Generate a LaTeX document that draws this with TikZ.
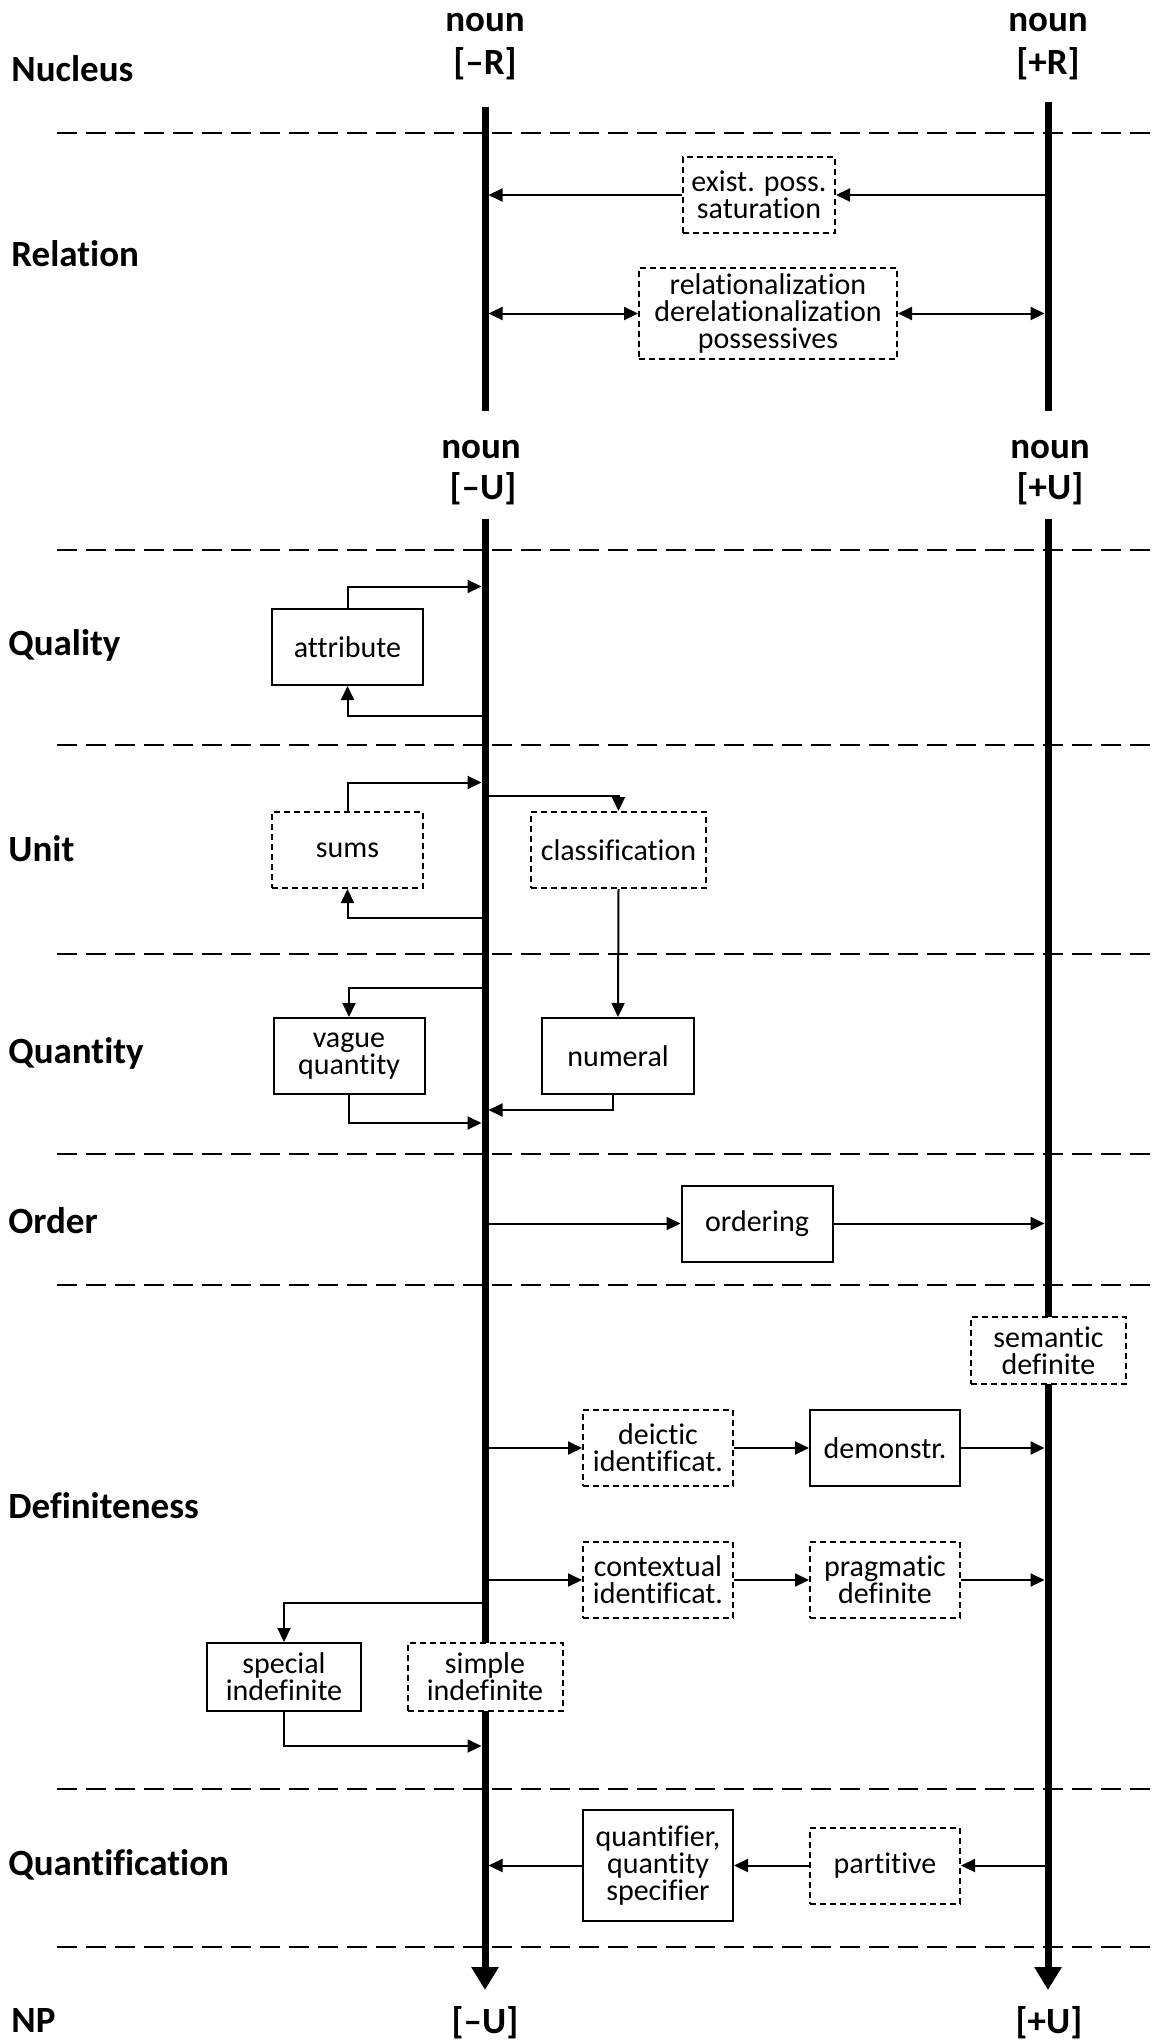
\documentclass[tikz,border=0pt]{standalone}
\usepackage{fontspec}
\setmainfont{Carlito}[Ligatures=NoCommon]
\usetikzlibrary{arrows.meta,calc}
\pgfdeclarelayer{bg}
\pgfsetlayers{bg,main}
\begin{document}
\begin{tikzpicture}[x=0.5pt,y=-0.5pt,
  sep/.style={line width=1.1pt, dash pattern=on 10pt off 4.5pt},
  axisline/.style={line width=3.5pt},
  axisend/.style={line width=3.5pt, -{Triangle[length=11.5pt,width=13pt]}},
  conn/.style={line width=1pt, -{Triangle[length=7pt,width=6.5pt]}},
  dconn/.style={line width=1pt, {Triangle[length=7pt,width=6.5pt]}-{Triangle[length=7pt,width=6.5pt]}},
  box/.style={draw, fill=white, line width=1pt, minimum width=75.5pt, minimum height=38pt, inner sep=0pt, align=center, font=\fontsize{15pt}{13.4pt}\selectfont},
  dbox/.style={box, dash pattern=on 3pt off 2pt},
  hdr/.style={font=\fontsize{18.5pt}{22pt}\selectfont\bfseries, inner sep=0pt, anchor=base},
  rowlab/.style={font=\fontsize{18.5pt}{22pt}\selectfont\bfseries, inner sep=0pt, anchor=base west},
]
\useasboundingbox (0,0) rectangle (1152,2044);

% axis coordinates
\coordinate (Lx) at (485,0);
\coordinate (Rx) at (1048,0);
\coordinate (LT) at (485,107);
\coordinate (LB) at (485,411);
\coordinate (RT) at (1048,102);
\coordinate (RB) at (1048,411);
\coordinate (LT2) at (485,519);
\coordinate (LE) at (485,1990);
\coordinate (RT2) at (1048,519);
\coordinate (RE) at (1048,1990);

\begin{pgfonlayer}{bg}
  \foreach \yy in {133,550,745,954,1154,1285,1789,1947}
    \draw[sep] (57,\yy) -- (1152,\yy);
  \draw[axisline] (LT) -- (LB);
  \draw[axisline] (RT) -- (RB);
  \draw[axisend] (LT2) -- (LE);
  \draw[axisend] (RT2) -- (RE);
\end{pgfonlayer}

% headers
\node[hdr] (nounL1) at (485,32) {noun};
\node[hdr] (RmL) at (485,75) {[–R]};
\node[hdr] (nounR1) at (1048,32) {noun};
\node[hdr] (RpL) at (1048,75) {[+R]};
\node[hdr] (nounL2) at (481,458.5) {noun};
\node[hdr] (UmL) at (483,499.5) {[–U]};
\node[hdr] (nounR2) at (1050,458.5) {noun};
\node[hdr] (UpL) at (1050,499.5) {[+U]};
\node[hdr] (UmB) at (485,2033) {[–U]};
\node[hdr] (UpB) at (1049,2033) {[+U]};

% row labels
\node[rowlab] (lNuc) at (11,81.5) {Nucleus};
\node[rowlab] (lRel) at (11,267) {Relation};
\node[rowlab] (lQual) at (8,655) {Quality};
\node[rowlab] (lUnit) at (8,861) {Unit};
\node[rowlab] (lQuan) at (8,1063) {Quantity};
\node[rowlab] (lOrd) at (8,1233) {Order};
\node[rowlab] (lDef) at (8,1518) {Definiteness};
\node[rowlab] (lQfc) at (8,1875) {Quantification};
\node[rowlab] (lNP) at (11,2032) {NP};

% boxes
\node[dbox, minimum width=76pt] (exist) at (759,195) {exist. poss.\\saturation};
\node[dbox, minimum width=129pt, minimum height=45.5pt] (rel) at (768,313.5) {relationalization\\derelationalization\\possessives};
\node[box] (attr) at (347.5,647) {attribute};
\node[dbox] (sums) at (347.5,850) {sums};
\node[dbox, minimum width=87.5pt] (class) at (618.5,850) {classification};
\node[box] (vague) at (349,1056) {vague\\quantity};
\node[box, minimum width=76pt] (num) at (618,1056) {numeral};
\node[box] (ord) at (757,1223.5) {ordering};
\node[dbox, minimum width=77.5pt, minimum height=33.5pt] (sem) at (1048.5,1350.5) {semantic\\definite};
\node[dbox, minimum width=75pt] (deic) at (658,1448) {deictic\\identificat.};
\node[box, minimum width=75pt] (dem) at (885,1448) {demonstr.};
\node[dbox, minimum width=75pt] (cont) at (658,1580) {contextual\\identificat.};
\node[dbox, minimum width=75pt] (prag) at (885,1580) {pragmatic\\definite};
\node[box, minimum width=77pt, minimum height=34pt] (spec) at (284,1677) {special\\indefinite};
\node[dbox, minimum width=77.5pt, minimum height=34pt] (simp) at (485,1677) {simple\\indefinite};
\node[box, minimum width=75pt, minimum height=55.5pt] (quant) at (658,1865.5) {quantifier,\\quantity\\specifier};
\node[dbox, minimum width=75pt] (part) at (885,1865.5) {partitive};

% connector anchor points on the axis
\coordinate (q1) at (485,586.5);
\coordinate (q2) at (485,716);
\coordinate (u1) at (485,782.5);
\coordinate (u2) at (485,918);
\coordinate (u3) at (485,796);
\coordinate (n1) at (485,988);
\coordinate (n2) at (485,1123);
\coordinate (n3) at (485,1110);
\coordinate (d1) at (485,1603);
\coordinate (d2) at (485,1746);

% Relation
\draw[conn] (Rx |- exist.east) -- (exist.east);
\draw[conn, shorten >=1.75pt] (exist.west) -- (Lx |- exist.west);
\draw[dconn, shorten <=1.75pt] (Lx |- rel.west) -- (rel.west);
\draw[dconn, shorten >=1.75pt] (rel.east) -- (Rx |- rel.east);

% Quality
\draw[conn, shorten >=1.75pt] (attr.north) |- (q1);
\draw[conn] (q2) -| (attr.south);

% Unit
\draw[conn, shorten >=1.75pt] (sums.north) |- (u1);
\draw[conn] (u2) -| (sums.south);
\draw[conn] (u3) -| (class.north);
\draw[conn] (class.south) -- (num.north);

% Quantity
\draw[conn] (n1) -| (vague.north);
\draw[conn, shorten >=1.75pt] (vague.south) |- (n2);
\draw[conn, shorten >=1.75pt] ($(num.south)+(-5,0)$) |- (n3);

% Order
\draw[conn] (Lx |- ord.west) -- (ord.west);
\draw[conn, shorten >=1.75pt] (ord.east) -- (Rx |- ord.east);

% Definiteness
\draw[conn] (Lx |- deic.west) -- (deic.west);
\draw[conn] (deic) -- (dem);
\draw[conn, shorten >=1.75pt] (dem.east) -- (Rx |- dem.east);
\draw[conn] (Lx |- cont.west) -- (cont.west);
\draw[conn] (cont) -- (prag);
\draw[conn, shorten >=1.75pt] (prag.east) -- (Rx |- prag.east);
\draw[conn] (d1) -| (spec.north);
\draw[conn, shorten >=1.75pt] (spec.south) |- (d2);

% Quantification
\draw[conn] (Rx |- part.east) -- (part.east);
\draw[conn] (part) -- (quant);
\draw[conn, shorten >=1.75pt] (quant.west) -- (Lx |- quant.west);
\end{tikzpicture}
\end{document}
